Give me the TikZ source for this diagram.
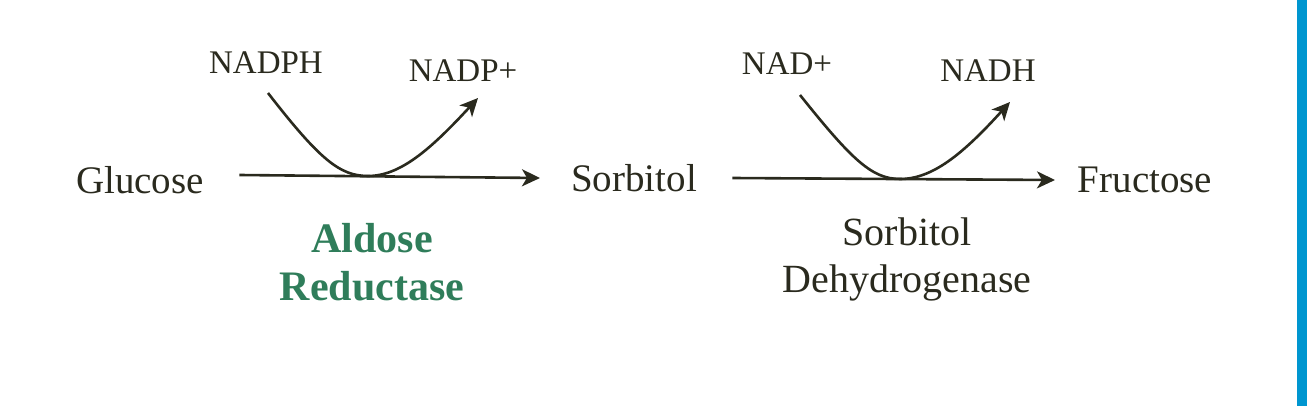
\documentclass[tikz,border=0pt]{standalone}
\usepackage{fontspec}
\setmainfont{Liberation Serif}
\usetikzlibrary{positioning,arrows.meta}
\definecolor{inkdark}{HTML}{2A2A1E}
\definecolor{enzgreen}{HTML}{2F7D5A}
\definecolor{barblue}{HTML}{0096D0}
\begin{document}
\begin{tikzpicture}[x=1pt,y=-1pt]
    % Setup the styles
    \tikzset{metab/.style={text=inkdark, font=\fontsize{39}{44}\selectfont},
             cofac/.style={text=inkdark, font=\fontsize{33}{38}\selectfont},
             enz/.style={align=center, font=\fontsize{40}{47}\selectfont},
             rxn/.style={draw=inkdark, line width=2.6pt, -{Stealth[length=18pt,width=17pt,inset=5pt]}}}

    \useasboundingbox (0,0) rectangle (1307,406);
    \fill[barblue] (1297,0) rectangle (1307,406);

    % Draw the metabolites
    \node[metab] at (140,180) (glucose)  {Glucose};
    \node[metab] at (634,178) (sorbitol) {Sorbitol};
    \node[metab] at (1145,180) (fructose) {Fructose};
    % Cofactors
    \node[cofac] at (266,63) (nadph) {NADPH};
    \node[cofac] at (463,71) (nadp)  {NADP+};
    \node[cofac] at (787,64) (nad)   {NAD+};
    \node[cofac] at (988,71) (nadh)  {NADH};
    % Enzymes
    \node[enz, text=enzgreen, font=\bfseries\fontsize{42}{48}\selectfont] at (372,262) (aldred) {Aldose\\Reductase};
    \node[enz, text=inkdark] at (907,259) (sordh) {Sorbitol\\Dehydrogenase};

    % Connect with arrows
    \coordinate (c1) at (268,93);  \coordinate (m1) at (368,176); \coordinate (e1) at (478,98);
    \coordinate (c2) at (800,95);  \coordinate (m2) at (900,179); \coordinate (e2) at (1010,102);
    \draw[rxn] (glucose.east)+(32,-5) -- (sorbitol.west -| 540,0);
    \draw[rxn] (sorbitol.east)+(32,0) -- (fructose.west -| 1055,0);
    \draw[rxn] (c1) .. controls (320,160) and (340,176) .. (m1)
        .. controls (400,176) and (430,150) .. (e1);
    \draw[rxn] (c2) .. controls (852,160) and (872,179) .. (m2)
        .. controls (932,179) and (962,155) .. (e2);
\end{tikzpicture}
\end{document}
